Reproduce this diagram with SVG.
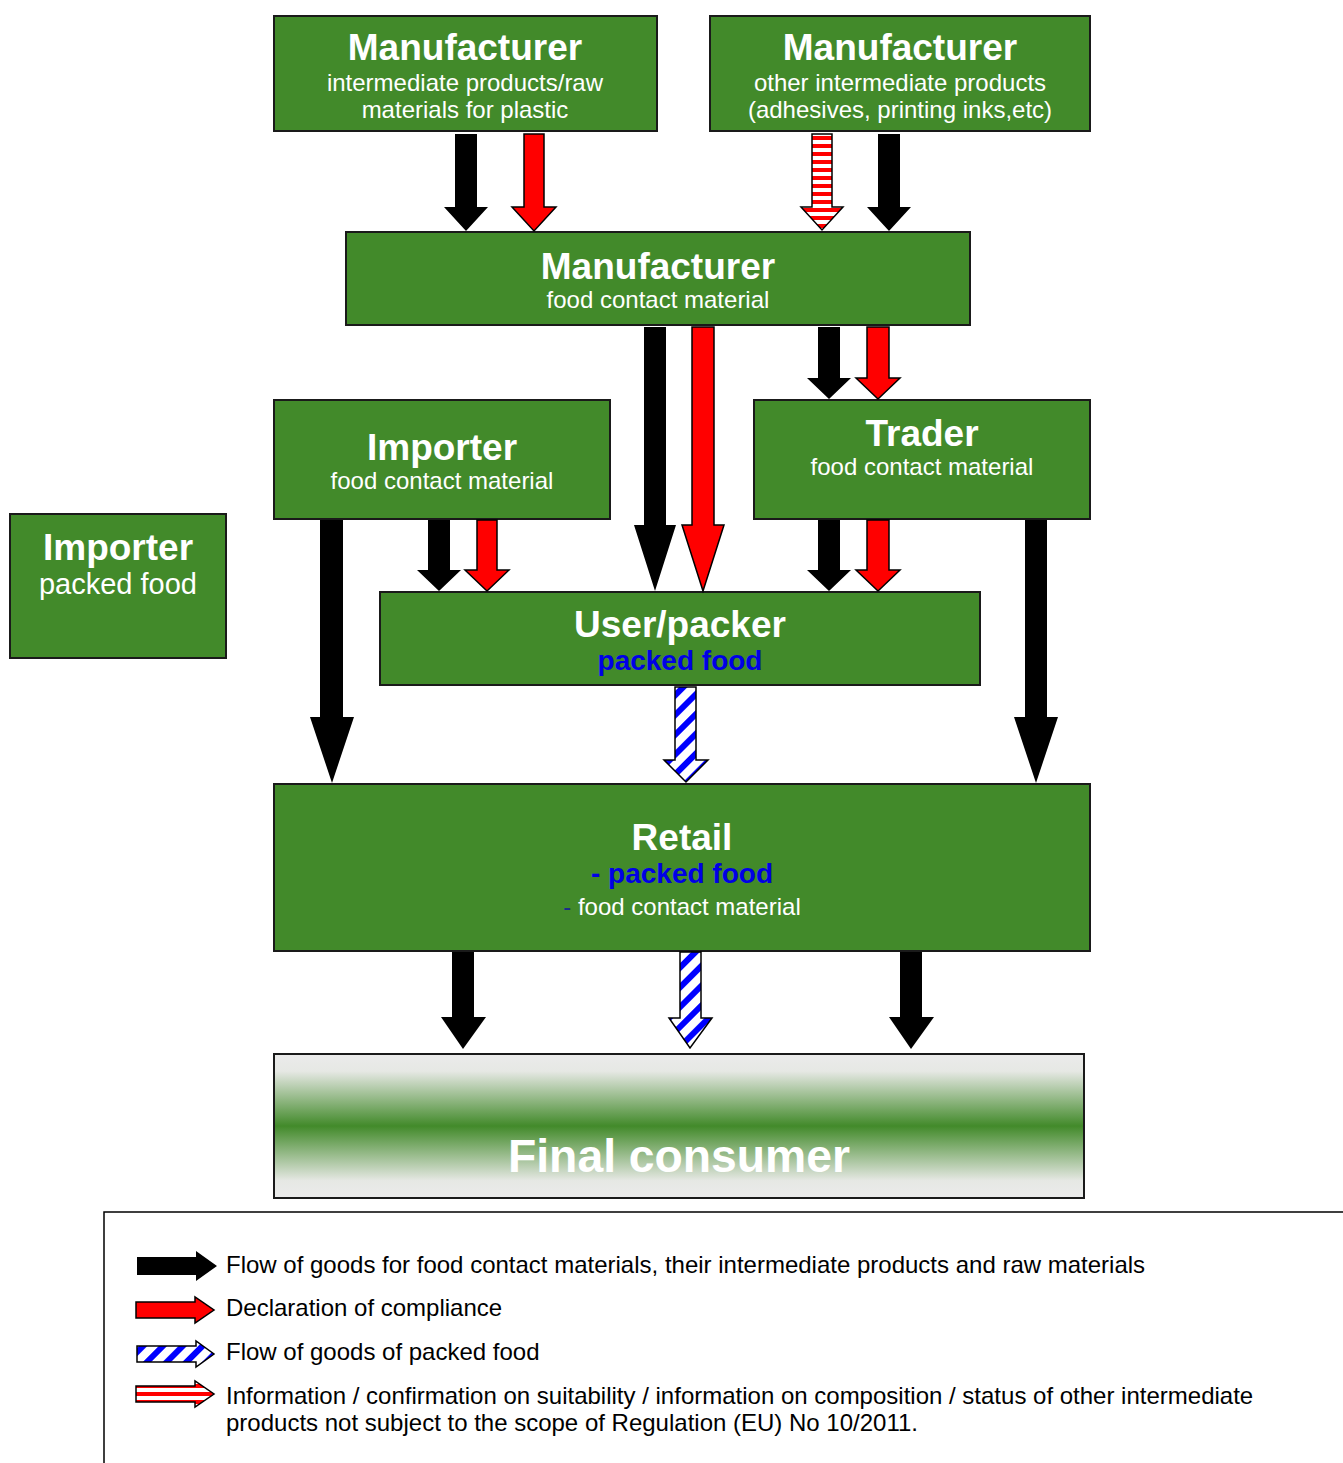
<svg xmlns="http://www.w3.org/2000/svg" width="1343" height="1463" viewBox="0 0 1343 1463">
<style>
.box{fill:#428a2a;stroke:#1a1a1a;stroke-width:2}
.t{font-family:"Liberation Sans",Arial,sans-serif;fill:#fff;text-anchor:middle}
.h{font-size:37px;font-weight:bold}
.s{font-size:24px}
.pb{font-size:28px;font-weight:bold;fill:#0000e6}
.lg{font-family:"Liberation Sans",Arial,sans-serif;font-size:24px;fill:#000}
.ab{fill:#000}
.ar{fill:#ff0000;stroke:#000;stroke-width:1.5}
.as{fill:url(#rw);stroke:#000;stroke-width:1.5}
.ablue{fill:url(#bw);stroke:#000;stroke-width:1.5}
</style>
<defs>
<pattern id="rw" patternUnits="userSpaceOnUse" width="8" height="8">
<rect width="8" height="8" fill="#fff"/>
<rect width="8" height="4" fill="#ff0000"/>
</pattern>
<pattern id="bw" patternUnits="userSpaceOnUse" width="14" height="14" patternTransform="rotate(-45)">
<rect width="14" height="14" fill="#fff"/>
<rect width="14" height="6" fill="#0000ff"/>
</pattern>
<linearGradient id="fc" x1="0" y1="0" x2="0" y2="1">
<stop offset="0" stop-color="#ebebeb"/>
<stop offset="0.12" stop-color="#e6e8e4"/>
<stop offset="0.5" stop-color="#428a2a"/>
<stop offset="0.88" stop-color="#e6e8e4"/>
<stop offset="1" stop-color="#ebebeb"/>
</linearGradient>
</defs>
<rect width="1343" height="1463" fill="#fff"/>

<g id="m1">
<rect class="box" x="274" y="16" width="383" height="115"/>
<text class="t h" x="465" y="60">Manufacturer</text>
<text class="t s" x="465" y="91">intermediate products/raw</text>
<text class="t s" x="465" y="118">materials for plastic</text>
</g>
<g id="m2">
<rect class="box" x="710" y="16" width="380" height="115"/>
<text class="t h" x="900" y="60">Manufacturer</text>
<text class="t s" x="900" y="91">other intermediate products</text>
<text class="t s" x="900" y="118">(adhesives, printing inks,etc)</text>
</g>
<g id="mfc">
<rect class="box" x="346" y="232" width="624" height="93"/>
<text class="t h" x="658" y="279">Manufacturer</text>
<text class="t s" x="658" y="308">food contact material</text>
</g>
<g id="importer-fcm">
<rect class="box" x="274" y="400" width="336" height="119"/>
<text class="t h" x="442" y="460">Importer</text>
<text class="t s" x="442" y="489">food contact material</text>
</g>
<g id="trader">
<rect class="box" x="754" y="400" width="336" height="119"/>
<text class="t h" x="922" y="446">Trader</text>
<text class="t s" x="922" y="475">food contact material</text>
</g>
<g id="importer-pf">
<rect class="box" x="10" y="514" width="216" height="144"/>
<text class="t h" x="118" y="560">Importer</text>
<text class="t" x="118" y="594" style="font-size:29px">packed food</text>
</g>
<g id="user">
<rect class="box" x="380" y="592" width="600" height="93"/>
<text class="t h" x="680" y="637">User/packer</text>
<text class="t pb" x="680" y="670">packed food</text>
</g>
<g id="retail">
<rect class="box" x="274" y="784" width="816" height="167"/>
<text class="t h" x="682" y="850">Retail</text>
<text class="t pb" x="682" y="883">- packed food</text>
<text class="t s" x="682" y="915"><tspan fill="#1a2a8a">-</tspan> food contact material</text>
</g>
<g id="consumer">
<rect x="274" y="1054" width="810" height="144" fill="url(#fc)" stroke="#1a1a1a" stroke-width="2"/>
<text class="t" x="679" y="1172" style="font-size:46px;font-weight:bold" textLength="342" lengthAdjust="spacingAndGlyphs">Final consumer</text>
</g>

<g id="connectors">
<polygon class="ab" points="455,134 477,134 477,207 488,207 466,231 444,207 455,207"/>
<polygon class="ar" points="524,134 544,134 544,207 556,207 534,231 512,207 524,207"/>
<polygon class="as" points="812,134 832,134 832,207 843,207 822,230 801,207 812,207"/>
<polygon class="ab" points="878,134 900,134 900,207 911,207 889,231 867,207 878,207"/>
<polygon class="ab" points="644,327 666,327 666,525 676,525 655,591 634,525 644,525"/>
<polygon class="ar" points="692,327 714,327 714,525 724,525 703,591 682,525 692,525"/>
<polygon class="ab" points="818,327 840,327 840,378 851,378 829,399 807,378 818,378"/>
<polygon class="ar" points="867,327 889,327 889,378 900,378 878,399 856,378 867,378"/>
<polygon class="ab" points="428,520 450,520 450,570 461,570 439,591 417,570 428,570"/>
<polygon class="ar" points="477,520 497,520 497,570 509,570 487,591 465,570 477,570"/>
<polygon class="ab" points="818,520 840,520 840,570 851,570 829,591 807,570 818,570"/>
<polygon class="ar" points="867,520 889,520 889,570 900,570 878,591 856,570 867,570"/>
<polygon class="ab" points="320,520 343,520 343,717 354,717 332,783 310,717 320,717"/>
<polygon class="ab" points="1025,520 1047,520 1047,717 1058,717 1036,783 1014,717 1025,717"/>
<polygon class="ablue" points="675,687 696,687 696,760 708,760 686,782 664,760 675,760"/>
<polygon class="ab" points="452,952 474,952 474,1017 486,1017 463,1049 441,1017 452,1017"/>
<polygon class="ablue" points="680,952 701,952 701,1018 712,1018 690,1048 669,1018 680,1018"/>
<polygon class="ab" points="900,952 922,952 922,1017 934,1017 911,1049 889,1017 900,1017"/>
</g>

<g id="legend">
<rect x="104" y="1212" width="1300" height="300" fill="none" stroke="#000" stroke-width="1.5"/>
<polygon class="ab" points="137,1257 196,1257 196,1251 217,1266 196,1281 196,1275 137,1275"/>
<polygon class="ar" points="136,1302 195,1302 195,1297 214,1310 195,1323 195,1318 136,1318"/>
<polygon class="ablue" points="137,1346 196,1346 196,1341 214,1354 196,1367 196,1362 137,1362"/>
<polygon class="as" points="136,1386 195,1386 195,1381 214,1394 195,1407 195,1402 136,1402"/>
<text class="lg" x="226" y="1273">Flow of goods for food contact materials, their intermediate products and raw materials</text>
<text class="lg" x="226" y="1316">Declaration of compliance</text>
<text class="lg" x="226" y="1360">Flow of goods of packed food</text>
<text class="lg" x="226" y="1404">Information / confirmation on suitability / information on composition / status of other intermediate</text>
<text class="lg" x="226" y="1431">products not subject to the scope of Regulation (EU) No 10/2011.</text>
</g>
</svg>
